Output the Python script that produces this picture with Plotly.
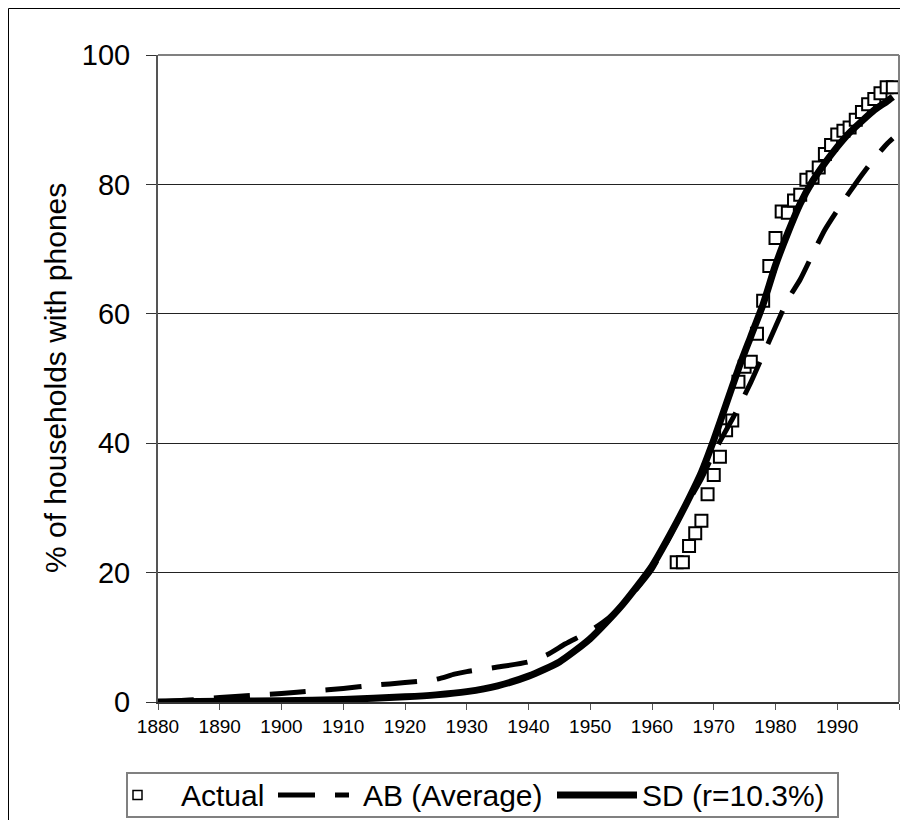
import plotly.graph_objects as go

# ---- data ----
actual_years = list(range(1964, 2000))
actual_values = [21.6, 21.6, 24.1, 26.1, 28.0, 32.1, 35.1, 37.9, 42.0, 43.5,
                 49.5, 51.8, 52.6, 56.9, 62.0, 67.4, 71.7, 75.8, 75.6, 77.5,
                 78.4, 80.7, 81.1, 82.6, 84.7, 86.1, 87.7, 88.3, 88.8, 90.0,
                 91.2, 92.4, 93.2, 94.1, 95.0, 95.0]

ab_years = [1880, 1885, 1890, 1895, 1900, 1905, 1910, 1915, 1920, 1925, 1928,
            1930, 1935, 1940, 1943, 1946, 1950, 1953, 1956, 1960, 1965, 1968,
            1970, 1972, 1974, 1976, 1978, 1980, 1982, 1984, 1986, 1988, 1990,
            1992, 1994, 1996, 1998, 1999]
ab_values = [0.0, 0.3, 0.7, 1.0, 1.3, 1.7, 2.1, 2.6, 3.0, 3.5, 4.3,
             4.7, 5.4, 6.2, 7.3, 9.0, 11.0, 13.0, 15.8, 20.5, 29.5, 34.5,
             38.5, 42.0, 45.5, 49.4, 53.7, 58.0, 62.2, 65.3, 69.2, 73.0, 76.0,
             78.8, 81.5, 84.0, 86.2, 87.1]

sd_years = [1880, 1890, 1900, 1910, 1920, 1925, 1930, 1935, 1940, 1945, 1950,
            1955, 1960, 1963, 1966, 1968, 1970, 1972, 1974, 1976, 1978, 1980,
            1982, 1984, 1986, 1988, 1990, 1992, 1994, 1996, 1998, 1999]
sd_values = [0.0, 0.1, 0.2, 0.4, 0.8, 1.1, 1.6, 2.5, 4.0, 6.2, 9.8,
             14.8, 21.0, 26.0, 31.5, 35.5, 40.5, 46.0, 51.5, 56.5, 61.5, 67.5,
             72.5, 77.0, 80.5, 83.3, 85.8, 88.0, 89.8, 91.5, 92.8, 93.5]

series_names = ["Actual", "AB (Average)", "SD (r=10.3%)"]
x_tick_vals = [1880, 1890, 1900, 1910, 1920, 1930, 1940, 1950, 1960, 1970, 1980, 1990, 2000]
x_tick_text = ["1880", "1890", "1900", "1910", "1920", "1930", "1940", "1950",
               "1960", "1970", "1980", "1990", ""]
y_tick_vals = [0, 20, 40, 60, 80, 100]
y_title = "% of households with phones"

FONT = "Liberation Sans, Arial, sans-serif"

# page is shown with an 8px body margin: work in page pixels, convert to figure
OFF = 8
W, H = 900, 812
L, T = 158 - OFF, 55 - OFF
R = W - (899 - OFF)
B = H - (702 - OFF)
pw, ph = W - L - R, H - T - B


def px(xp):
    return (xp - OFF - L) / pw


def py(yp):
    return (H - B - (yp - OFF)) / ph


fig = go.Figure()
fig.add_trace(go.Scatter(
    x=actual_years, y=actual_values, mode="markers", name=series_names[0],
    marker=dict(symbol="square", size=12, color="white",
                line=dict(color="black", width=2)),
    showlegend=False,
))
fig.add_trace(go.Scatter(
    x=ab_years, y=ab_values, mode="lines", name=series_names[1],
    line=dict(color="black", width=5, dash="36px,20px", shape="spline", smoothing=0.6),
    showlegend=False,
))
fig.add_trace(go.Scatter(
    x=sd_years, y=sd_values, mode="lines", name=series_names[2],
    line=dict(color="black", width=7, shape="spline", smoothing=0.6),
    showlegend=False,
))

# ---- legend drawn by hand (box, samples, labels) ----
LEG_Y = 795
shapes = [
    # plot-area border (top and right)
    dict(type="line", xref="paper", yref="paper", x0=0, y0=1, x1=1, y1=1,
         line=dict(color="#808080", width=2)),
    dict(type="line", xref="paper", yref="paper", x0=1, y0=0, x1=1, y1=1,
         line=dict(color="#808080", width=2)),
    # outer chart border (left and top edges)
    dict(type="line", xref="paper", yref="paper", x0=px(8.5), y0=py(8.5), x1=px(8.5), y1=py(830),
         line=dict(color="black", width=1), layer="below"),
    dict(type="line", xref="paper", yref="paper", x0=px(8.5), y0=py(8.5), x1=px(915), y1=py(8.5),
         line=dict(color="black", width=1), layer="below"),
    # legend box
    dict(type="rect", xref="paper", yref="paper", x0=px(127), y0=py(773), x1=px(838), y1=py(817),
         line=dict(color="#808080", width=2), fillcolor="white", layer="above"),
    # Actual marker
    dict(type="rect", xref="paper", yref="paper", x0=px(133), y0=py(LEG_Y - 4.5), x1=px(142), y1=py(LEG_Y + 4.5),
         line=dict(color="black", width=1.5), fillcolor="white", layer="above"),
    # AB dashed sample
    dict(type="line", xref="paper", yref="paper", x0=px(278), y0=py(LEG_Y), x1=px(315), y1=py(LEG_Y),
         line=dict(color="black", width=5), layer="above"),
    dict(type="line", xref="paper", yref="paper", x0=px(335), y0=py(LEG_Y), x1=px(349), y1=py(LEG_Y),
         line=dict(color="black", width=5), layer="above"),
    # SD solid sample
    dict(type="line", xref="paper", yref="paper", x0=px(557), y0=py(LEG_Y), x1=px(637), y1=py(LEG_Y),
         line=dict(color="black", width=7), layer="above"),
]

annotations = [
    dict(text=series_names[0], x=px(179), y=py(LEG_Y), xref="paper", yref="paper",
         xanchor="left", yanchor="middle", showarrow=False, font=dict(size=30, family=FONT)),
    dict(text=series_names[1], x=px(361), y=py(LEG_Y), xref="paper", yref="paper",
         xanchor="left", yanchor="middle", showarrow=False, font=dict(size=30, family=FONT)),
    dict(text=series_names[2], x=px(640), y=py(LEG_Y), xref="paper", yref="paper",
         xanchor="left", yanchor="middle", showarrow=False, font=dict(size=30, family=FONT)),
    # y-axis title
    dict(text=y_title, x=px(55), y=py(378), xref="paper", yref="paper", textangle=-90,
         xanchor="center", yanchor="middle", showarrow=False, font=dict(size=30, family=FONT)),
]

fig.update_layout(
    width=W, height=H,
    margin=dict(l=L, r=R, t=T, b=B),
    paper_bgcolor="white", plot_bgcolor="white",
    font=dict(family=FONT, color="black"),
    showlegend=False,
    xaxis=dict(
        range=[1880, 2000], tickmode="array", tickvals=x_tick_vals, ticktext=x_tick_text,
        ticks="outside", ticklen=6, tickcolor="#555", tickwidth=1,
        showgrid=False, zeroline=False, showline=True, linecolor="#333", linewidth=1.5,
        tickfont=dict(size=19, family=FONT),
    ),
    yaxis=dict(
        range=[0, 100], tickmode="array", tickvals=y_tick_vals,
        ticks="outside", ticklen=10, tickcolor="#333", tickwidth=1,
        showgrid=True, gridcolor="#222", gridwidth=1, zeroline=False,
        showline=True, linecolor="#555", linewidth=2,
        tickfont=dict(size=29, family=FONT), ticklabelstandoff=10,
    ),
    shapes=shapes,
    annotations=annotations,
)

fig.write_html("out.html")
